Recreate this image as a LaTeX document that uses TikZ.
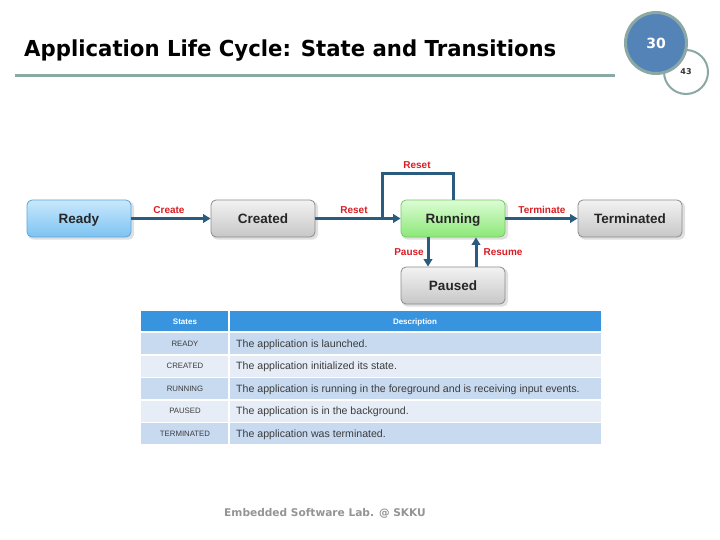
\documentclass[tikz,border=0pt]{standalone}
\usepackage{fontspec}
\setmainfont{Liberation Sans}
\newfontfamily\verd{DejaVu Sans}
\usetikzlibrary{arrows.meta,calc}
\definecolor{arrc}{RGB}{42,92,128}
\definecolor{lblred}{RGB}{214,30,36}
\definecolor{rulec}{RGB}{140,168,165}
\definecolor{circb}{RGB}{84,132,183}
\definecolor{hdrblue}{RGB}{56,148,222}
\definecolor{rowa}{RGB}{200,218,240}
\definecolor{rowb}{RGB}{230,237,247}
\definecolor{celltxt}{RGB}{60,60,60}
\tikzset{
  box/.style={rounded corners=5pt, minimum width=104pt, minimum height=37pt, inner sep=0pt,
    text height=9.5pt, text depth=0pt,
    font=\bfseries\fontsize{13.5}{15}\selectfont, text=black!85},
  graybox/.style={box, draw=black!45, line width=0.8pt, top color=black!5, bottom color=black!22},
  bluebox/.style={box, draw={rgb,255:red,95;green,165;blue,220}, line width=0.8pt,
    top color={rgb,255:red,200;green,232;blue,252}, bottom color={rgb,255:red,125;green,195;blue,242}},
  greenbox/.style={box, draw={rgb,255:red,120;green,200;blue,105}, line width=0.8pt,
    top color={rgb,255:red,220;green,252;blue,212}, bottom color={rgb,255:red,140;green,232;blue,120}},
  flow/.style={draw=arrc, line width=3pt},
  arr/.style={flow, -{Triangle[length=7.5pt,width=8.5pt]}},
  lbl/.style={text=lblred, font=\bfseries\fontsize{10}{11}\selectfont, inner sep=0pt,
    text height=7pt, text depth=0pt},
  shadowbox/.style={fill=black!12, rounded corners=5pt},
  statecell/.style={text=celltxt, font=\fontsize{7.8}{9}\selectfont, inner sep=0pt,
    text height=5.6pt, text depth=0pt},
  desccell/.style={text=celltxt, font=\fontsize{10.6}{12}\selectfont, inner sep=0pt, anchor=west,
    text height=7.6pt, text depth=0pt},
  hdr/.style={text=white, font=\bfseries\fontsize{8}{9}\selectfont, inner sep=0pt,
    text height=5.8pt, text depth=0pt},
}
\begin{document}
\begin{tikzpicture}[x=1pt,y=-1pt]
\useasboundingbox[fill=white] (0,0) rectangle (720,540);

% title
\node[anchor=west, inner sep=0pt, font=\verd\bfseries\fontsize{22}{26}\selectfont] (title) at (24,51) {\scalebox{0.965}[1]{Application Life Cycle: State and Transitions}};
\draw[rulec, line width=3pt] (15,76) -- (615,76);

% page circles
\node[circle, draw=rulec, line width=2pt, fill=white, minimum size=44pt, inner sep=0pt,
  font=\verd\bfseries\fontsize{8}{9}\selectfont, text=black!80] (pg) at (686,72) {\raisebox{-2pt}{43}};
\node[circle, draw=rulec, line width=3pt, fill=circb, minimum size=61pt, inner sep=0pt,
  font=\verd\bfseries\fontsize{14}{16}\selectfont, text=white] (num) at (656,43) {30};

% shadows
\foreach \x/\y in {79/218.5, 263/218.5, 453/218.5, 630/218.5, 453/285.5}{
  \fill[shadowbox] (\x-51,\y-17) rectangle (\x+55,\y+21);
}

% state boxes
\node[bluebox] (ready) at (79,218.5) {Ready};
\node[graybox] (created) at (263,218.5) {Created};
\node[greenbox] (running) at (453,218.5) {Running};
\node[graybox] (terminated) at (630,218.5) {Terminated};
\node[graybox] (paused) at (453,285.5) {Paused};

% transitions
\draw[arr] (ready) -- (created);
\draw[arr] (created) -- (running);
\coordinate (join) at (382,218.5);
\draw[flow] (running.north) -- ++(0,-26) -| (join);
\draw[arr] (running) -- (terminated);
\draw[arr] ([xshift=-25pt]running.south) -- ([xshift=-25pt]paused.north);
\draw[arr] ([xshift=23pt]paused.north) -- ([xshift=23pt]running.south);

\node[lbl] (lcreate) at (169,210) {Create};
\node[lbl] (lreset1) at (354,210) {Reset};
\node[lbl] (lreset2) at (417,165) {Reset};
\node[lbl] (lterm) at (542,210) {Terminate};
\node[lbl] (lpause) at (409,252) {Pause};
\node[lbl] (lresume) at (503,252) {Resume};

% table
\fill[hdrblue] (141,311) rectangle (601,331);
\draw[white, line width=1.2pt] (229,311) -- (229,331);
\node[hdr] (hs) at (185,321.5) {States};
\node[hdr] (hd) at (415,321.5) {Description};

\foreach \y/\c in {333/rowa, 355.5/rowb, 378/rowa, 400.5/rowb, 423/rowa}{
  \fill[\c] (141,\y) rectangle (228,\y+21);
  \fill[\c] (230,\y) rectangle (601,\y+21);
}
\node[statecell] (s1) at (185,343.5) {READY};
\node[statecell] (s2) at (185,366) {CREATED};
\node[statecell] (s3) at (185,388.5) {RUNNING};
\node[statecell] (s4) at (185,411) {PAUSED};
\node[statecell] (s5) at (185,433.5) {TERMINATED};
\node[desccell] (d1) at (236,343.5) {The application is launched.};
\node[desccell] (d2) at (236,366) {The application initialized its state.};
\node[desccell] (d3) at (236,388.5) {The application is running in the foreground and is receiving input events.};
\node[desccell] (d4) at (236,411) {The application is in the background.};
\node[desccell] (d5) at (236,433.5) {The application was terminated.};

% footer
\node[text=black!42, font=\verd\bfseries\fontsize{10.6}{12}\selectfont, inner sep=0pt] (foot) at (325,513) {Embedded Software Lab. @ SKKU};
\end{tikzpicture}
\end{document}
